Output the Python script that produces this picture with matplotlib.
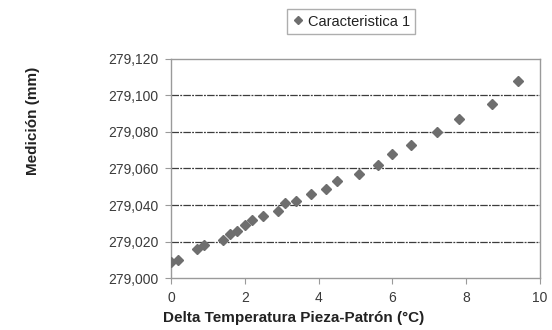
import matplotlib.pyplot as plt
from matplotlib.ticker import FuncFormatter

plt.rcParams['font.family'] = ['Liberation Sans', 'DejaVu Sans']

# Measurements vs temperature difference between part and gauge
delta_t = [0.0, 0.2, 0.71, 0.9, 1.4, 1.6, 1.8, 2.0, 2.2, 2.5, 2.9, 3.1, 3.4,
           3.8, 4.2, 4.5, 5.1, 5.6, 6.0, 6.5, 7.2, 7.8, 8.7, 9.4]
medicion = [279.009, 279.010, 279.016, 279.018, 279.021, 279.024, 279.026,
            279.029, 279.032, 279.034, 279.037, 279.041, 279.042, 279.046,
            279.049, 279.053, 279.057, 279.062, 279.068, 279.073, 279.080,
            279.087, 279.095, 279.108]
serie = 'Caracteristica 1'
x_ticks = [0, 2, 4, 6, 8, 10]
y_ticks = [279.000, 279.020, 279.040, 279.060, 279.080, 279.100, 279.120]

fig = plt.figure(figsize=(5.52, 3.3), dpi=100)
ax = fig.add_axes([0.31, 0.157, 0.668, 0.665])

ax.plot(delta_t, medicion, linestyle='none', marker='D', markersize=5.5,
        color='#6e6e6e', markeredgecolor='#6e6e6e', label=serie, zorder=3)

ax.set_xlim(0, 10)
ax.set_ylim(279.000, 279.120)
ax.set_xticks(x_ticks)
ax.set_yticks(y_ticks)
ax.yaxis.set_major_formatter(FuncFormatter(lambda v, p: f'{v:.3f}'.replace('.', ',')))

for v in y_ticks[1:-1]:
    ax.axhline(v, color='#3c3c3c', lw=0.9, linestyle=(0, (6, 1, 1.5, 1)), zorder=1)

for s in ax.spines.values():
    s.set_color('#9a9a9a')
    s.set_linewidth(1)
ax.tick_params(direction='out', length=4, color='#9a9a9a', labelsize=10,
               labelcolor='#3a3a3a', pad=5)

fig.text(294 / 552, 1 - 318 / 330, 'Delta Temperatura Pieza-Patrón (°C)',
         ha='center', va='center', fontsize=11, fontweight='bold', color='#222222')
fig.text(33 / 552, 1 - 121 / 330, 'Medición (mm)', rotation=90,
         ha='center', va='center', fontsize=11, fontweight='bold', color='#222222')

leg = fig.legend(loc='center', bbox_to_anchor=(351 / 552, 1 - 21.5 / 330),
                 fontsize=10.5, frameon=True, fancybox=False, handlelength=0.8,
                 handletextpad=0.3, borderpad=0.35, markerscale=0.75)
leg.get_frame().set_edgecolor('#9a9a9a')
leg.get_frame().set_linewidth(1)
for t in leg.get_texts():
    t.set_color('#222222')

fig.savefig('out.png', dpi=100)
